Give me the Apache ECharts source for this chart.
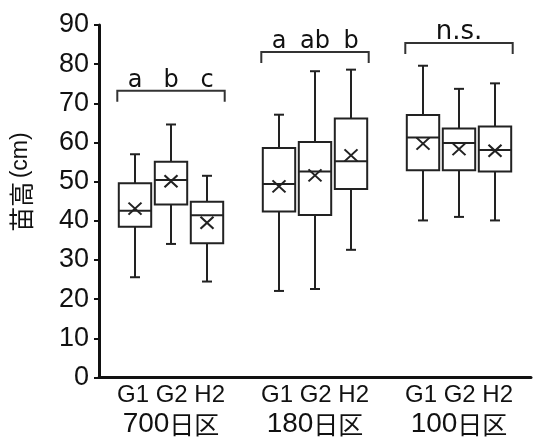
<!DOCTYPE html>
<html>
<head>
<meta charset="utf-8">
<script src="https://cdn.jsdelivr.net/npm/echarts@6/dist/echarts.min.js"></script>
<style>
  html, body { margin: 0; padding: 0; background: #fff; }
  #chart { width: 534px; height: 438px; }
</style>
</head>
<body>
<div id="chart"></div>
<script>
// plots (x groups) and varieties within each plot
const plots = ['700日区', '180日区', '100日区']
const varieties = ['G1', 'G2', 'H2']

// box stats, one entry per box: 700 G1,G2,H2 / 180 G1,G2,H2 / 100 G1,G2,H2
const minVals    = [25.6, 34.1, 24.5, 22.1, 22.6, 32.6, 40.1, 41.0, 40.1]
const q1Vals     = [38.5, 44.2, 34.3, 42.4, 41.5, 48.1, 52.9, 52.9, 52.6]
const medianVals = [42.6, 50.4, 41.4, 49.4, 52.6, 55.2, 61.3, 59.9, 58.1]
const q3Vals     = [49.6, 55.1, 44.9, 58.6, 60.1, 66.1, 67.0, 63.6, 64.1]
const maxVals    = [57.0, 64.6, 51.5, 67.1, 78.2, 78.6, 79.6, 73.7, 75.1]
const meanVals   = [43.1, 50.1, 39.5, 48.8, 51.6, 56.7, 59.7, 58.3, 57.9]

// significance brackets per plot
const bracketHeights = [73.2, 83.1, 85.4]
const sigLetters = [['a', 'b', 'c'], ['a', 'ab', 'b'], ['n.s.']]

const yTicks = [0, 10, 20, 30, 40, 50, 60, 70, 80, 90]

const SANS = "'Liberation Sans', Arial, sans-serif"
const CJK = "'Noto Sans CJK JP', sans-serif"
const INK = '#222'

// slot layout on the category axis: blank, 3 boxes, blank, 3 boxes, blank, 3 boxes, blank
const slotLabels = ['']
plots.forEach(function () { varieties.forEach(v => slotLabels.push(v)); slotLabels.push('') })
const slotOf = i => 1 + Math.floor(i / 3) * 4 + (i % 3)
const axisText = {}
plots.forEach((p, g) => {
  const num = p.replace('日区', '')
  axisText[2 + g * 4] = '{v|' + varieties.join(' ') + '}\n{n|' + num + '}{c|日区}'
})

const boxData = minVals.map((_, i) => [slotOf(i), minVals[i], q1Vals[i], medianVals[i], q3Vals[i], maxVals[i]])
const meanData = meanVals.map((m, i) => [slotOf(i), m])
const bracketData = plots.map((_, g) => [1 + g * 4, 3 + g * 4, bracketHeights[g]])

function renderBox(params, api) {
  const x = api.coord([api.value(0), 0])[0]
  const y = k => api.coord([api.value(0), api.value(k)])[1]
  const half = api.size([1, 0])[0] * 0.45
  const cap = 5
  const st = { stroke: INK, lineWidth: 2 }
  return {
    type: 'group',
    children: [
      { type: 'line', shape: { x1: x, y1: y(5), x2: x, y2: y(4) }, style: st },
      { type: 'line', shape: { x1: x, y1: y(2), x2: x, y2: y(1) }, style: st },
      { type: 'line', shape: { x1: x - cap, y1: y(5), x2: x + cap, y2: y(5) }, style: st },
      { type: 'line', shape: { x1: x - cap, y1: y(1), x2: x + cap, y2: y(1) }, style: st },
      { type: 'rect', shape: { x: x - half, y: y(4), width: half * 2, height: y(2) - y(4) },
        style: { fill: '#fff', stroke: INK, lineWidth: 2 } },
      { type: 'line', shape: { x1: x - half, y1: y(3), x2: x + half, y2: y(3) }, style: st }
    ]
  }
}

function renderBracket(params, api) {
  const band = api.size([1, 0])[0]
  const x0 = api.coord([api.value(0), 0])[0] - band * 0.45 - 1.5
  const x1 = api.coord([api.value(1), 0])[0] + band * 0.45 + 1.5
  const yTop = api.coord([api.value(0), api.value(2)])[1]
  const drop = 11
  const letters = sigLetters[params.dataIndex]
  const children = [{
    type: 'polyline',
    shape: { points: [[x0, yTop + drop], [x0, yTop], [x1, yTop], [x1, yTop + drop]] },
    style: { stroke: '#333', lineWidth: 2, fill: null }
  }]
  const fs = letters.length === 1 ? 26 : 24
  letters.forEach(function (t, k) {
    const slot = letters.length === 1 ? (api.value(0) + api.value(1)) / 2 : api.value(0) + k
    children.push({
      type: 'text',
      style: {
        text: t, x: api.coord([slot, 0])[0], y: yTop - 10.5,
        align: 'center', verticalAlign: 'middle',
        fontSize: fs, fontFamily: "'DejaVu Sans', sans-serif", fill: '#111'
      }
    })
  })
  return { type: 'group', children: children }
}

const chart = echarts.init(document.getElementById('chart'))
chart.setOption({
  animation: false,
  backgroundColor: '#fff',
  grid: { left: 99, right: 1, top: 25, bottom: 60, containLabel: false },
  xAxis: {
    type: 'category',
    data: slotLabels,
    boundaryGap: false,
    axisLine: { lineStyle: { color: '#111', width: 3 } },
    axisTick: { show: false },
    splitLine: { show: false },
    axisLabel: {
      interval: 0,
      margin: 3,
      color: '#111',
      formatter: (v, i) => axisText[i] || '',
      rich: {
        v: { fontSize: 24, fontFamily: SANS, lineHeight: 29, color: '#111' },
        n: { fontSize: 28, fontFamily: SANS, lineHeight: 29, color: '#111' },
        c: { fontSize: 25, fontFamily: CJK, lineHeight: 29, color: '#111' }
      }
    }
  },
  yAxis: {
    type: 'value',
    min: yTicks[0],
    max: yTicks[yTicks.length - 1],
    interval: 10,
    axisLine: { show: true, lineStyle: { color: '#111', width: 3 } },
    axisTick: { show: true, length: 5, lineStyle: { color: '#111', width: 2 } },
    splitLine: { show: false },
    axisLabel: { margin: 10, fontSize: 27, fontFamily: SANS, color: '#111' }
  },
  graphic: [{
    type: 'text',
    x: 21, y: 182,
    rotation: Math.PI / 2,
    style: {
      text: '{c|苗高} {u|(cm)}', align: 'center', verticalAlign: 'middle',
      rich: {
        c: { fontSize: 25, fontFamily: CJK, fill: '#111' },
        u: { fontSize: 23, fontFamily: SANS, fill: '#111' }
      }
    }
  }],
  series: [
    { type: 'custom', renderItem: renderBox, data: boxData, z: 2,
      encode: { x: 0, y: [1, 2, 3, 4, 5] } },
    { type: 'scatter', data: meanData, z: 5,
      symbol: 'path://M0,0L10,10M10,0L0,10', symbolSize: [13, 12],
      itemStyle: { color: 'none', borderColor: INK, borderWidth: 2, opacity: 1 } },
    { type: 'custom', renderItem: renderBracket, data: bracketData, z: 3,
      encode: { x: [0, 1], y: 2 } }
  ]
})
</script>
</body>
</html>
